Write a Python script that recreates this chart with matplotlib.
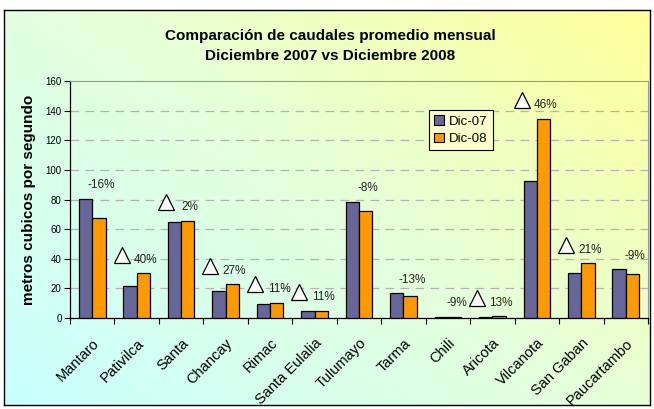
import numpy as np
import matplotlib
matplotlib.use('Agg')
import matplotlib.pyplot as plt
from matplotlib.colors import LinearSegmentedColormap
from matplotlib.patches import Rectangle

plt.rcParams['font.family'] = ['Liberation Sans', 'DejaVu Sans']

rivers = ["Mantaro", "Pativilca", "Santa", "Chancay", "Rimac", "Santa Eulalia",
          "Tulumayo", "Tarma", "Chili", "Aricota", "Vilcanota", "San Gaban", "Paucartambo"]
dic07 = [80.5, 21.5, 64.5, 18.0, 9.3, 4.4, 78.5, 16.8, 0.8, 0.9, 92.3, 30.5, 33.0]
dic08 = [67.5, 30.1, 65.8, 22.9, 10.3, 4.9, 72.2, 14.6, 0.73, 1.02, 134.5, 37.0, 30.0]
changes = ["-16%", "40%", "2%", "27%", "11%", "11%", "-8%", "-13%", "-9%", "13%", "46%", "21%", "-9%"]
yticks = [0, 20, 40, 60, 80, 100, 120, 140, 160]
series_names = ["Dic-07", "Dic-08"]
title_text = "Comparación de caudales promedio mensual\nDiciembre 2007 vs Diciembre 2008"
ylabel_text = "metros cubicos por segundo"

W, H = 654, 409
fig = plt.figure(figsize=(W / 100, H / 100), dpi=100)
fig.patch.set_facecolor('white')

# background panel with gradient
bg = fig.add_axes([4 / W, 4 / H, 646 / W, 395 / H])
bg.set_zorder(-1)
nx, ny = 300, 200
xx, yy = np.meshgrid(np.linspace(0, 1, nx), np.linspace(0, 1, ny))
t = (xx * 0.55 + yy * 0.45)
cmap = LinearSegmentedColormap.from_list('g', ['#C8FFFF', '#E4FFDC', '#FFFF99'])
bg.imshow(t, cmap=cmap, origin='lower', extent=[0, 1, 0, 1], aspect='auto', vmin=0, vmax=1)
bg.set_xlim(0, 1)
bg.set_ylim(0, 1)
bg.set_xticks([])
bg.set_yticks([])
for s in bg.spines.values():
    s.set_color('black')
    s.set_linewidth(1.0)

ax = fig.add_axes([70 / W, (H - 318) / H, 578 / W, 237 / H])
ax.patch.set_alpha(0)

n = len(rivers)
x = np.arange(n)
bw = 0.3
c07, c08 = '#666699', '#FF9900'
ax.bar(x - bw / 2, dic07, bw, color=c07, edgecolor='black', linewidth=0.9, zorder=3, label=series_names[0])
ax.bar(x + bw / 2, dic08, bw, color=c08, edgecolor='black', linewidth=0.9, zorder=3, label=series_names[1])

ax.set_xlim(-0.5, n - 0.5)
ax.set_ylim(0, 160)
ax.set_yticks(yticks)
ax.set_yticklabels([str(v) for v in yticks], fontsize=7)
for v in yticks[1:-1]:
    ax.axhline(v, color='#B4B4B4', linestyle=(0, (7, 5)), linewidth=0.9, zorder=1)

ax.set_xticks(np.arange(-0.5, n, 1.0), minor=False)
ax.set_xticklabels([])
ax.set_xticks(x, minor=True)
ax.set_xticklabels(rivers, minor=True, rotation=45, ha='right', va='top',
                   rotation_mode='anchor', fontsize=10.5)
ax.tick_params(axis='x', which='minor', length=0, pad=13)
ax.tick_params(axis='x', which='major', length=4, direction='out', width=0.8)
ax.tick_params(axis='y', length=4, direction='out', width=0.8, pad=2)

for s in ['top', 'right']:
    ax.spines[s].set_color('#999999')
    ax.spines[s].set_linewidth(0.8)
for s in ['left', 'bottom']:
    ax.spines[s].set_color('black')
    ax.spines[s].set_linewidth(0.9)

ax.set_ylabel(ylabel_text, fontsize=11, fontweight='bold', labelpad=7)

# change annotations
for i in range(n):
    top = max(dic07[i], dic08[i])
    ax.text(i + 0.2, top + 9, changes[i], fontsize=8.5, color='#222222',
            ha='center', va='center', zorder=4)
    if not changes[i].startswith('-'):
        ax.plot(i + 0.2 - 0.54, top + 12.5, marker='^', markersize=11,
                markerfacecolor='white', markeredgecolor='black', markeredgewidth=0.9,
                linestyle='none', zorder=4, clip_on=False)

handles = [Rectangle((0, 0), 1, 1, facecolor=c07, edgecolor='black', linewidth=0.8),
           Rectangle((0, 0), 1, 1, facecolor=c08, edgecolor='black', linewidth=0.8)]
leg = ax.legend(handles, series_names, loc='upper left', bbox_to_anchor=((429 - 70) / 578, (318 - 110) / 237),
                fontsize=9.5, frameon=True, fancybox=False, edgecolor='black',
                facecolor='#FFFFCC', framealpha=1, handlelength=0.7, handleheight=0.7,
                handletextpad=0.4, borderpad=0.4, labelspacing=0.4, borderaxespad=0)
leg.get_frame().set_linewidth(0.8)

fig.text(330 / W, 1 - 46 / H, title_text, ha='center', va='center', fontsize=11,
         fontweight='bold', linespacing=1.6)

fig.savefig('out.png', dpi=100)
